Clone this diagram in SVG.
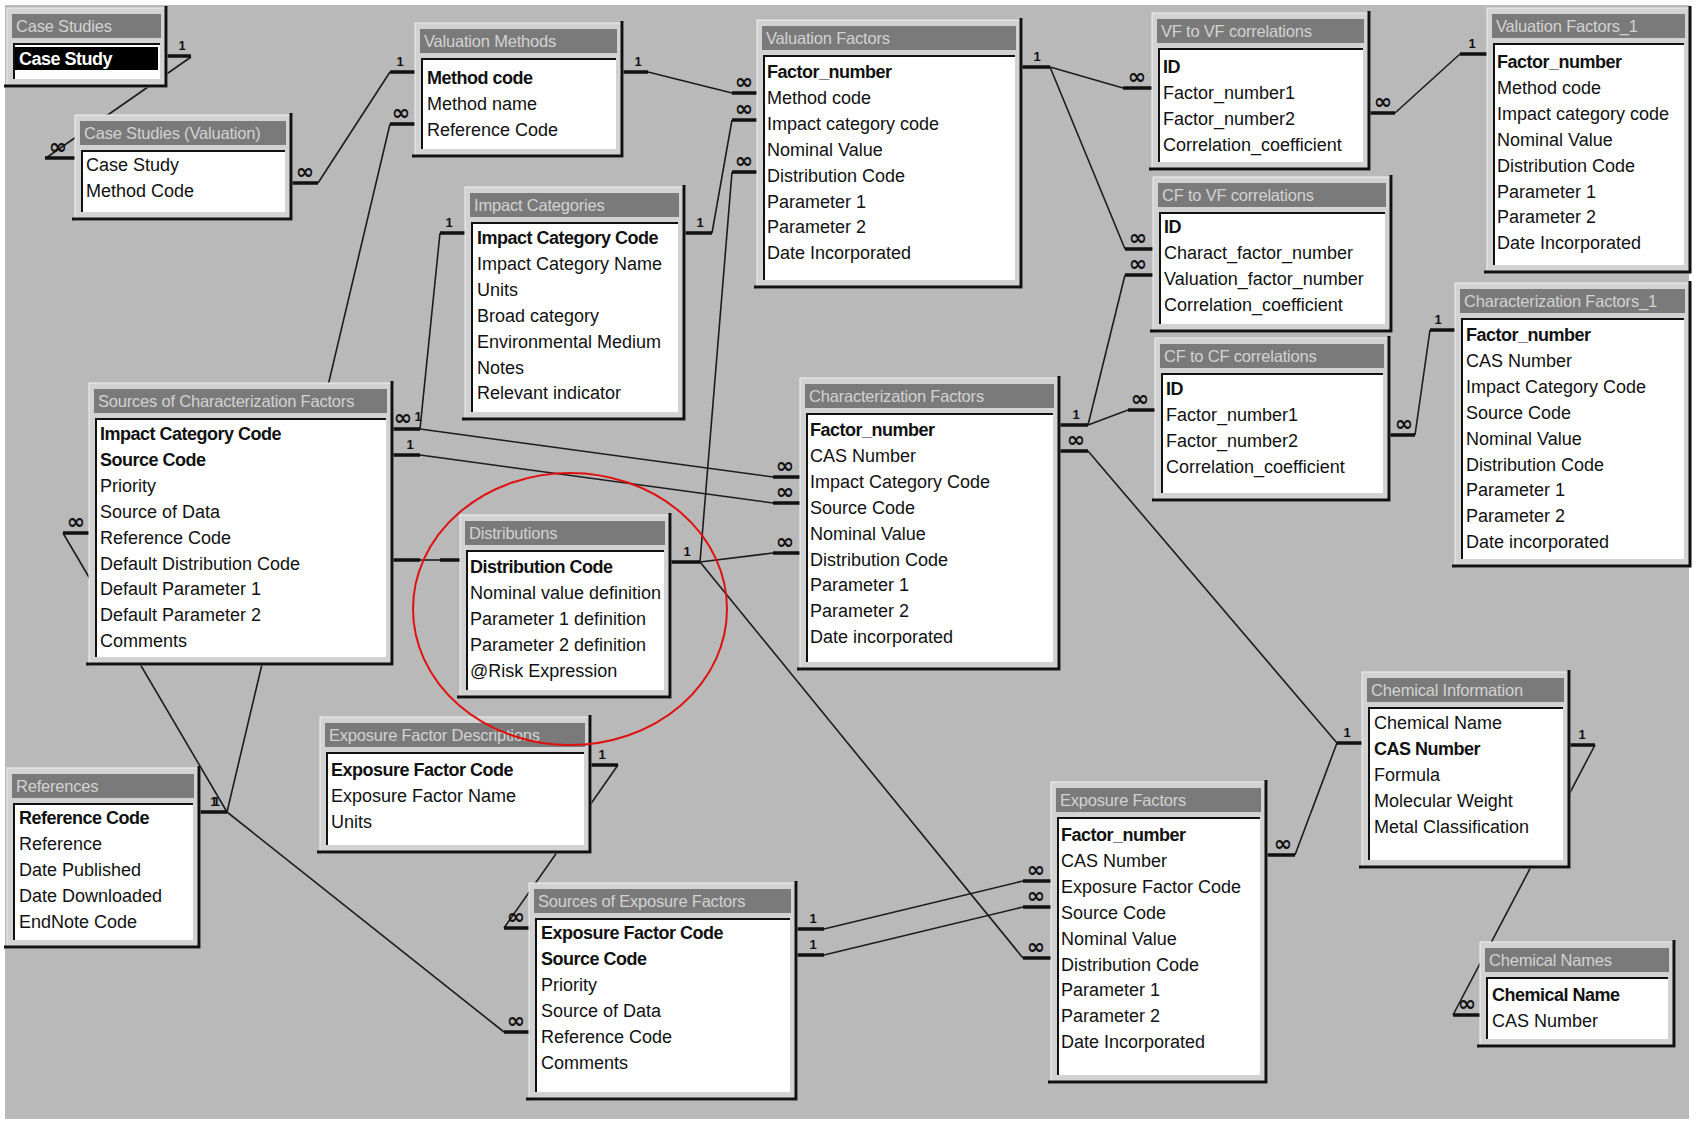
<svg xmlns="http://www.w3.org/2000/svg" width="1700" height="1124" viewBox="0 0 1700 1124">
<style>
.bg{fill:#b9b9b9}
.fr{fill:#d2d2d2;stroke:#efefef;stroke-width:1}
.tb{fill:#7a7a7a}
.tt{font-family:"Liberation Sans",Arial,sans-serif;font-size:16.5px;fill:#d2d2d2;letter-spacing:-0.2px}
.ls{fill:#ffffff}
.sk{fill:none;stroke:#111;stroke-width:2}
.sh{fill:none;stroke:#111;stroke-width:3}
.f{font-family:"Liberation Sans",Arial,sans-serif;font-size:18px;fill:#111}
.k{font-weight:bold;letter-spacing:-0.5px}
.ln{stroke:#1c1c1c;stroke-width:1.6;fill:none}
.st{stroke:#111;stroke-width:3.5}
.one{font-family:"Liberation Sans",Arial,sans-serif;font-size:13px;font-weight:bold;fill:#111;text-anchor:middle}
.many{font-family:"DejaVu Sans",sans-serif;font-size:22px;font-weight:bold;fill:#111;text-anchor:middle}
</style>
<rect width="1700" height="1124" fill="#ffffff"/>
<rect class="bg" x="5" y="5" width="1684" height="1114"/>

<g id="connectors">
  <!-- Case Studies -> Case Studies (Valuation) -->
  <line class="ln" x1="191" y1="57" x2="46" y2="158"/>
  <line class="st" x1="167" y1="56" x2="191" y2="56"/><text class="one" x="182" y="50">1</text>
  <line class="st" x1="45" y1="158" x2="75" y2="158"/><text class="many" x="58" y="154">∞</text>
  <!-- Case Studies (Valuation) -> Valuation Methods -->
  <line class="ln" x1="318" y1="183" x2="390" y2="72"/>
  <line class="st" x1="292" y1="183" x2="318" y2="183"/><text class="many" x="305" y="179">∞</text>
  <line class="st" x1="390" y1="72" x2="415" y2="72"/><text class="one" x="400" y="66">1</text>
  <!-- Valuation Methods -> References -->
  <line class="ln" x1="390" y1="124" x2="227" y2="812"/>
  <line class="st" x1="390" y1="124" x2="415" y2="124"/><text class="many" x="401" y="120">∞</text>
  <!-- Valuation Methods -> Valuation Factors -->
  <line class="ln" x1="648" y1="72" x2="732" y2="93"/>
  <line class="st" x1="623" y1="72" x2="648" y2="72"/><text class="one" x="638" y="66">1</text>
  <line class="st" x1="732" y1="93" x2="757" y2="93"/><text class="many" x="744" y="89">∞</text>
  <!-- Impact Categories -> Valuation Factors -->
  <line class="ln" x1="712" y1="233" x2="732" y2="120"/>
  <line class="st" x1="685" y1="233" x2="712" y2="233"/><text class="one" x="700" y="227">1</text>
  <line class="st" x1="732" y1="120" x2="757" y2="120"/><text class="many" x="744" y="116">∞</text>
  <!-- Distributions -> Valuation Factors -->
  <line class="ln" x1="700" y1="562" x2="732" y2="172"/>
  <line class="st" x1="732" y1="172" x2="757" y2="172"/><text class="many" x="744" y="168">∞</text>
  <line class="st" x1="671" y1="562" x2="700" y2="562"/><text class="one" x="687" y="556">1</text>
  <!-- Distributions -> Characterization Factors -->
  <line class="ln" x1="700" y1="562" x2="773" y2="553"/>
  <line class="st" x1="773" y1="553" x2="800" y2="553"/><text class="many" x="785" y="549">∞</text>
  <!-- Distributions -> Exposure Factors -->
  <line class="ln" x1="700" y1="562" x2="1023" y2="958"/>
  <line class="st" x1="1023" y1="958" x2="1051" y2="958"/><text class="many" x="1036" y="954">∞</text>
  <!-- Impact Categories -> Sources of Characterization Factors -->
  <line class="ln" x1="440" y1="233" x2="420" y2="429"/>
  <line class="st" x1="440" y1="233" x2="465" y2="233"/><text class="one" x="449" y="227">1</text>
  <line class="st" x1="393" y1="429" x2="420" y2="429"/>
  <text class="many" x="403" y="425">∞</text>
  <text class="one" x="418" y="421">1</text>
  <!-- Sources of CF -> Characterization Factors -->
  <line class="ln" x1="420" y1="429" x2="773" y2="477"/>
  <line class="st" x1="773" y1="477" x2="800" y2="477"/><text class="many" x="785" y="473">∞</text>
  <line class="ln" x1="420" y1="455" x2="773" y2="503"/>
  <line class="st" x1="393" y1="455" x2="420" y2="455"/><text class="one" x="410" y="449">1</text>
  <line class="st" x1="773" y1="503" x2="800" y2="503"/><text class="many" x="785" y="499">∞</text>
  <!-- Sources of CF -> Distributions -->
  <line class="ln" x1="420" y1="560" x2="440" y2="560"/>
  <line class="st" x1="393" y1="560" x2="420" y2="560"/>
  <line class="st" x1="440" y1="560" x2="460" y2="560"/>
  <!-- References -> Sources of CF -->
  <line class="ln" x1="63" y1="533" x2="227" y2="812"/>
  <line class="st" x1="63" y1="533" x2="89" y2="533"/><text class="many" x="76" y="529">∞</text>
  <line class="st" x1="200" y1="812" x2="227" y2="812"/><text class="one" x="213" y="806" letter-spacing="-4">11</text>
  <!-- References -> Sources of Exposure Factors -->
  <line class="ln" x1="227" y1="812" x2="504" y2="1032"/>
  <line class="st" x1="504" y1="1032" x2="529" y2="1032"/><text class="many" x="516" y="1028">∞</text>
  <!-- Exposure Factor Descriptions -> Sources of Exposure Factors -->
  <line class="ln" x1="618" y1="765" x2="504" y2="928"/>
  <line class="st" x1="591" y1="765" x2="618" y2="765"/><text class="one" x="602" y="759">1</text>
  <line class="st" x1="504" y1="928" x2="529" y2="928"/><text class="many" x="516" y="924">∞</text>
  <!-- Sources of Exposure Factors -> Exposure Factors -->
  <line class="ln" x1="824" y1="929" x2="1023" y2="881"/>
  <line class="st" x1="797" y1="929" x2="824" y2="929"/><text class="one" x="813" y="923">1</text>
  <line class="st" x1="1023" y1="881" x2="1051" y2="881"/><text class="many" x="1036" y="877">∞</text>
  <line class="ln" x1="824" y1="955" x2="1023" y2="907"/>
  <line class="st" x1="797" y1="955" x2="824" y2="955"/><text class="one" x="813" y="949">1</text>
  <line class="st" x1="1023" y1="907" x2="1051" y2="907"/><text class="many" x="1036" y="903">∞</text>
  <!-- Valuation Factors -> VF to VF -->
  <line class="ln" x1="1050" y1="67" x2="1123" y2="88"/>
  <line class="st" x1="1022" y1="67" x2="1050" y2="67"/><text class="one" x="1037" y="61">1</text>
  <line class="st" x1="1123" y1="88" x2="1152" y2="88"/><text class="many" x="1137" y="84">∞</text>
  <!-- Valuation Factors -> CF to VF -->
  <line class="ln" x1="1050" y1="67" x2="1125" y2="249"/>
  <line class="st" x1="1125" y1="249" x2="1153" y2="249"/><text class="many" x="1138" y="245">∞</text>
  <!-- Characterization Factors -> CF to VF -->
  <line class="ln" x1="1088" y1="425" x2="1125" y2="275"/>
  <line class="st" x1="1060" y1="425" x2="1088" y2="425"/><text class="one" x="1076" y="419">1</text>
  <line class="st" x1="1125" y1="275" x2="1153" y2="275"/><text class="many" x="1138" y="271">∞</text>
  <!-- Characterization Factors -> CF to CF -->
  <line class="ln" x1="1088" y1="425" x2="1128" y2="410"/>
  <line class="st" x1="1128" y1="410" x2="1155" y2="410"/><text class="many" x="1140" y="406">∞</text>
  <!-- CF to CF -> Characterization Factors_1 -->
  <line class="ln" x1="1415" y1="435" x2="1430" y2="330"/>
  <line class="st" x1="1390" y1="435" x2="1415" y2="435"/><text class="many" x="1404" y="431">∞</text>
  <line class="st" x1="1430" y1="330" x2="1455" y2="330"/><text class="one" x="1438" y="324">1</text>
  <!-- VF to VF -> Valuation Factors_1 -->
  <line class="ln" x1="1395" y1="113" x2="1460" y2="54"/>
  <line class="st" x1="1370" y1="113" x2="1395" y2="113"/><text class="many" x="1383" y="109">∞</text>
  <line class="st" x1="1460" y1="54" x2="1487" y2="54"/><text class="one" x="1472" y="48">1</text>
  <!-- Characterization Factors -> Chemical Information -->
  <line class="ln" x1="1088" y1="451" x2="1337" y2="743"/>
  <line class="st" x1="1060" y1="451" x2="1088" y2="451"/><text class="many" x="1076" y="447">∞</text>
  <line class="st" x1="1337" y1="743" x2="1362" y2="743"/><text class="one" x="1347" y="737">1</text>
  <!-- Exposure Factors -> Chemical Information -->
  <line class="ln" x1="1295" y1="855" x2="1337" y2="743"/>
  <line class="st" x1="1267" y1="855" x2="1295" y2="855"/><text class="many" x="1283" y="851">∞</text>
  <!-- Chemical Information -> Chemical Names -->
  <line class="ln" x1="1595" y1="745" x2="1453" y2="1015"/>
  <line class="st" x1="1570" y1="745" x2="1595" y2="745"/><text class="one" x="1582" y="739">1</text>
  <line class="st" x1="1453" y1="1015" x2="1480" y2="1015"/><text class="many" x="1467" y="1011">∞</text>
</g>

<g id="case-studies" transform="translate(7,8)">
  <rect class="fr" width="160" height="79"/>
  <rect class="tb" x="5" y="6" width="149" height="24"/>
  <text class="tt" x="9" y="24">Case Studies</text>
  <rect class="ls" x="6" y="35" width="147" height="36"/>
  <rect x="8" y="39" width="143" height="23" fill="#000"/>
  <text class="f k" x="12" y="57" style="fill:#fff">Case Study</text>
  <path class="sk" d="M7 71 V36 H153"/>
  <path class="sh" d="M159 -2 V78 H-3"/>
</g>

<g id="case-studies-valuation" transform="translate(75,115)">
  <rect class="fr" width="217" height="105"/>
  <rect class="tb" x="5" y="6" width="206" height="24"/>
  <text class="tt" x="9" y="24">Case Studies (Valuation)</text>
  <rect class="ls" x="6" y="35" width="204" height="62"/>
  <path class="sk" d="M7 97 V36 H210"/>
  <path class="sh" d="M216 -2 V104 H-3"/>
  <text class="f" x="11" y="56">Case Study</text>
  <text class="f" x="11" y="82">Method Code</text>
</g>

<g id="valuation-methods" transform="translate(415,23)">
  <rect class="fr" width="208" height="134"/>
  <rect class="tb" x="5" y="6" width="197" height="24"/>
  <text class="tt" x="9" y="24">Valuation Methods</text>
  <rect class="ls" x="6" y="35" width="195" height="91"/>
  <path class="sk" d="M7 126 V36 H201"/>
  <path class="sh" d="M207 -2 V133 H-3"/>
  <text class="f k" x="12" y="61">Method code</text>
  <text class="f" x="12" y="87">Method name</text>
  <text class="f" x="12" y="113">Reference Code</text>
</g>

<g id="valuation-factors" transform="translate(757,20)">
  <rect class="fr" width="265" height="268"/>
  <rect class="tb" x="5" y="6" width="254" height="24"/>
  <text class="tt" x="9" y="24">Valuation Factors</text>
  <rect class="ls" x="6" y="35" width="252" height="225"/>
  <path class="sk" d="M7 260 V36 H258"/>
  <path class="sh" d="M264 -2 V267 H-3"/>
  <text class="f k" x="10" y="58">Factor_number</text>
  <text class="f" x="10" y="84">Method code</text>
  <text class="f" x="10" y="110">Impact category code</text>
  <text class="f" x="10" y="136">Nominal Value</text>
  <text class="f" x="10" y="162">Distribution Code</text>
  <text class="f" x="10" y="188">Parameter 1</text>
  <text class="f" x="10" y="213">Parameter 2</text>
  <text class="f" x="10" y="239">Date Incorporated</text>
</g>

<g id="vf-to-vf-correlations" transform="translate(1152,13)">
  <rect class="fr" width="218" height="157"/>
  <rect class="tb" x="5" y="6" width="207" height="24"/>
  <text class="tt" x="9" y="24">VF to VF correlations</text>
  <rect class="ls" x="6" y="35" width="205" height="114"/>
  <path class="sk" d="M7 149 V36 H211"/>
  <path class="sh" d="M217 -2 V156 H-3"/>
  <text class="f k" x="11" y="60">ID</text>
  <text class="f" x="11" y="86">Factor_number1</text>
  <text class="f" x="11" y="112">Factor_number2</text>
  <text class="f" x="11" y="138">Correlation_coefficient</text>
</g>

<g id="valuation-factors-1" transform="translate(1487,8)">
  <rect class="fr" width="204" height="265"/>
  <rect class="tb" x="5" y="6" width="193" height="24"/>
  <text class="tt" x="9" y="24">Valuation Factors_1</text>
  <rect class="ls" x="6" y="35" width="191" height="222"/>
  <path class="sk" d="M7 257 V36 H197"/>
  <path class="sh" d="M203 -2 V264 H-3"/>
  <text class="f k" x="10" y="60">Factor_number</text>
  <text class="f" x="10" y="86">Method code</text>
  <text class="f" x="10" y="112">Impact category code</text>
  <text class="f" x="10" y="138">Nominal Value</text>
  <text class="f" x="10" y="164">Distribution Code</text>
  <text class="f" x="10" y="190">Parameter 1</text>
  <text class="f" x="10" y="215">Parameter 2</text>
  <text class="f" x="10" y="241">Date Incorporated</text>
</g>

<g id="impact-categories" transform="translate(465,187)">
  <rect class="fr" width="220" height="233"/>
  <rect class="tb" x="5" y="6" width="209" height="24"/>
  <text class="tt" x="9" y="24">Impact Categories</text>
  <rect class="ls" x="6" y="35" width="207" height="190"/>
  <path class="sk" d="M7 225 V36 H213"/>
  <path class="sh" d="M219 -2 V232 H-3"/>
  <text class="f k" x="12" y="57">Impact Category Code</text>
  <text class="f" x="12" y="83">Impact Category Name</text>
  <text class="f" x="12" y="109">Units</text>
  <text class="f" x="12" y="135">Broad category</text>
  <text class="f" x="12" y="161">Environmental Medium</text>
  <text class="f" x="12" y="187">Notes</text>
  <text class="f" x="12" y="212">Relevant indicator</text>
</g>

<g id="cf-to-vf-correlations" transform="translate(1153,177)">
  <rect class="fr" width="239" height="155"/>
  <rect class="tb" x="5" y="6" width="228" height="24"/>
  <text class="tt" x="9" y="24">CF to VF correlations</text>
  <rect class="ls" x="6" y="35" width="226" height="112"/>
  <path class="sk" d="M7 147 V36 H232"/>
  <path class="sh" d="M238 -2 V154 H-3"/>
  <text class="f k" x="11" y="56">ID</text>
  <text class="f" x="11" y="82">Charact_factor_number</text>
  <text class="f" x="11" y="108">Valuation_factor_number</text>
  <text class="f" x="11" y="134">Correlation_coefficient</text>
</g>

<g id="cf-to-cf-correlations" transform="translate(1155,338)">
  <rect class="fr" width="235" height="163"/>
  <rect class="tb" x="5" y="6" width="224" height="24"/>
  <text class="tt" x="9" y="24">CF to CF correlations</text>
  <rect class="ls" x="6" y="35" width="222" height="120"/>
  <path class="sk" d="M7 155 V36 H228"/>
  <path class="sh" d="M234 -2 V162 H-3"/>
  <text class="f k" x="11" y="57">ID</text>
  <text class="f" x="11" y="83">Factor_number1</text>
  <text class="f" x="11" y="109">Factor_number2</text>
  <text class="f" x="11" y="135">Correlation_coefficient</text>
</g>

<g id="characterization-factors-1" transform="translate(1455,283)">
  <rect class="fr" width="236" height="284"/>
  <rect class="tb" x="5" y="6" width="225" height="24"/>
  <text class="tt" x="9" y="24">Characterization Factors_1</text>
  <rect class="ls" x="6" y="35" width="223" height="241"/>
  <path class="sk" d="M7 276 V36 H229"/>
  <path class="sh" d="M235 -2 V283 H-3"/>
  <text class="f k" x="11" y="58">Factor_number</text>
  <text class="f" x="11" y="84">CAS Number</text>
  <text class="f" x="11" y="110">Impact Category Code</text>
  <text class="f" x="11" y="136">Source Code</text>
  <text class="f" x="11" y="162">Nominal Value</text>
  <text class="f" x="11" y="188">Distribution Code</text>
  <text class="f" x="11" y="213">Parameter 1</text>
  <text class="f" x="11" y="239">Parameter 2</text>
  <text class="f" x="11" y="265">Date incorporated</text>
</g>

<g id="sources-of-characterization-factors" transform="translate(89,383)">
  <rect class="fr" width="304" height="282"/>
  <rect class="tb" x="5" y="6" width="293" height="24"/>
  <text class="tt" x="9" y="24">Sources of Characterization Factors</text>
  <rect class="ls" x="6" y="35" width="291" height="239"/>
  <path class="sk" d="M7 274 V36 H297"/>
  <path class="sh" d="M303 -2 V281 H-3"/>
  <text class="f k" x="11" y="57">Impact Category Code</text>
  <text class="f k" x="11" y="83">Source Code</text>
  <text class="f" x="11" y="109">Priority</text>
  <text class="f" x="11" y="135">Source of Data</text>
  <text class="f" x="11" y="161">Reference Code</text>
  <text class="f" x="11" y="187">Default Distribution Code</text>
  <text class="f" x="11" y="212">Default Parameter 1</text>
  <text class="f" x="11" y="238">Default Parameter 2</text>
  <text class="f" x="11" y="264">Comments</text>
</g>

<g id="distributions" transform="translate(460,515)">
  <rect class="fr" width="211" height="183"/>
  <rect class="tb" x="5" y="6" width="200" height="24"/>
  <text class="tt" x="9" y="24">Distributions</text>
  <rect class="ls" x="6" y="35" width="198" height="140"/>
  <path class="sk" d="M7 175 V36 H204"/>
  <path class="sh" d="M210 -2 V182 H-3"/>
  <text class="f k" x="10" y="58">Distribution Code</text>
  <text class="f" x="10" y="84">Nominal value definition</text>
  <text class="f" x="10" y="110">Parameter 1 definition</text>
  <text class="f" x="10" y="136">Parameter 2 definition</text>
  <text class="f" x="10" y="162">@Risk Expression</text>
</g>

<g id="characterization-factors" transform="translate(800,378)">
  <rect class="fr" width="260" height="292"/>
  <rect class="tb" x="5" y="6" width="249" height="24"/>
  <text class="tt" x="9" y="24">Characterization Factors</text>
  <rect class="ls" x="6" y="35" width="247" height="249"/>
  <path class="sk" d="M7 284 V36 H253"/>
  <path class="sh" d="M259 -2 V291 H-3"/>
  <text class="f k" x="10" y="58">Factor_number</text>
  <text class="f" x="10" y="84">CAS Number</text>
  <text class="f" x="10" y="110">Impact Category Code</text>
  <text class="f" x="10" y="136">Source Code</text>
  <text class="f" x="10" y="162">Nominal Value</text>
  <text class="f" x="10" y="188">Distribution Code</text>
  <text class="f" x="10" y="213">Parameter 1</text>
  <text class="f" x="10" y="239">Parameter 2</text>
  <text class="f" x="10" y="265">Date incorporated</text>
</g>

<g id="chemical-information" transform="translate(1362,672)">
  <rect class="fr" width="208" height="196"/>
  <rect class="tb" x="5" y="6" width="197" height="24"/>
  <text class="tt" x="9" y="24">Chemical Information</text>
  <rect class="ls" x="6" y="35" width="195" height="153"/>
  <path class="sk" d="M7 188 V36 H201"/>
  <path class="sh" d="M207 -2 V195 H-3"/>
  <text class="f" x="12" y="57">Chemical Name</text>
  <text class="f k" x="12" y="83">CAS Number</text>
  <text class="f" x="12" y="109">Formula</text>
  <text class="f" x="12" y="135">Molecular Weight</text>
  <text class="f" x="12" y="161">Metal Classification</text>
</g>

<g id="chemical-names" transform="translate(1480,942)">
  <rect class="fr" width="195" height="105"/>
  <rect class="tb" x="5" y="6" width="184" height="24"/>
  <text class="tt" x="9" y="24">Chemical Names</text>
  <rect class="ls" x="6" y="35" width="182" height="62"/>
  <path class="sk" d="M7 97 V36 H188"/>
  <path class="sh" d="M194 -2 V104 H-3"/>
  <text class="f k" x="12" y="59">Chemical Name</text>
  <text class="f" x="12" y="85">CAS Number</text>
</g>

<g id="exposure-factors" transform="translate(1051,782)">
  <rect class="fr" width="216" height="301"/>
  <rect class="tb" x="5" y="6" width="205" height="24"/>
  <text class="tt" x="9" y="24">Exposure Factors</text>
  <rect class="ls" x="6" y="35" width="203" height="258"/>
  <path class="sk" d="M7 293 V36 H209"/>
  <path class="sh" d="M215 -2 V300 H-3"/>
  <text class="f k" x="10" y="59">Factor_number</text>
  <text class="f" x="10" y="85">CAS Number</text>
  <text class="f" x="10" y="111">Exposure Factor Code</text>
  <text class="f" x="10" y="137">Source Code</text>
  <text class="f" x="10" y="163">Nominal Value</text>
  <text class="f" x="10" y="189">Distribution Code</text>
  <text class="f" x="10" y="214">Parameter 1</text>
  <text class="f" x="10" y="240">Parameter 2</text>
  <text class="f" x="10" y="266">Date Incorporated</text>
</g>

<g id="exposure-factor-descriptions" transform="translate(320,717)">
  <rect class="fr" width="271" height="136"/>
  <rect class="tb" x="5" y="6" width="260" height="24"/>
  <text class="tt" x="9" y="24">Exposure Factor Descriptions</text>
  <rect class="ls" x="6" y="35" width="258" height="93"/>
  <path class="sk" d="M7 128 V36 H264"/>
  <path class="sh" d="M270 -2 V135 H-3"/>
  <text class="f k" x="11" y="59">Exposure Factor Code</text>
  <text class="f" x="11" y="85">Exposure Factor Name</text>
  <text class="f" x="11" y="111">Units</text>
</g>

<g id="references" transform="translate(7,768)">
  <rect class="fr" width="193" height="180"/>
  <rect class="tb" x="5" y="6" width="182" height="24"/>
  <text class="tt" x="9" y="24">References</text>
  <rect class="ls" x="6" y="35" width="180" height="137"/>
  <path class="sk" d="M7 172 V36 H186"/>
  <path class="sh" d="M192 -2 V179 H-3"/>
  <text class="f k" x="12" y="56">Reference Code</text>
  <text class="f" x="12" y="82">Reference</text>
  <text class="f" x="12" y="108">Date Published</text>
  <text class="f" x="12" y="134">Date Downloaded</text>
  <text class="f" x="12" y="160">EndNote Code</text>
</g>

<g id="sources-of-exposure-factors" transform="translate(529,883)">
  <rect class="fr" width="268" height="217"/>
  <rect class="tb" x="5" y="6" width="257" height="24"/>
  <text class="tt" x="9" y="24">Sources of Exposure Factors</text>
  <rect class="ls" x="6" y="35" width="255" height="174"/>
  <path class="sk" d="M7 209 V36 H261"/>
  <path class="sh" d="M267 -2 V216 H-3"/>
  <text class="f k" x="12" y="56">Exposure Factor Code</text>
  <text class="f k" x="12" y="82">Source Code</text>
  <text class="f" x="12" y="108">Priority</text>
  <text class="f" x="12" y="134">Source of Data</text>
  <text class="f" x="12" y="160">Reference Code</text>
  <text class="f" x="12" y="186">Comments</text>
</g>

<ellipse cx="570" cy="609" rx="157" ry="136" fill="none" stroke="#e01010" stroke-width="2"/>
</svg>
